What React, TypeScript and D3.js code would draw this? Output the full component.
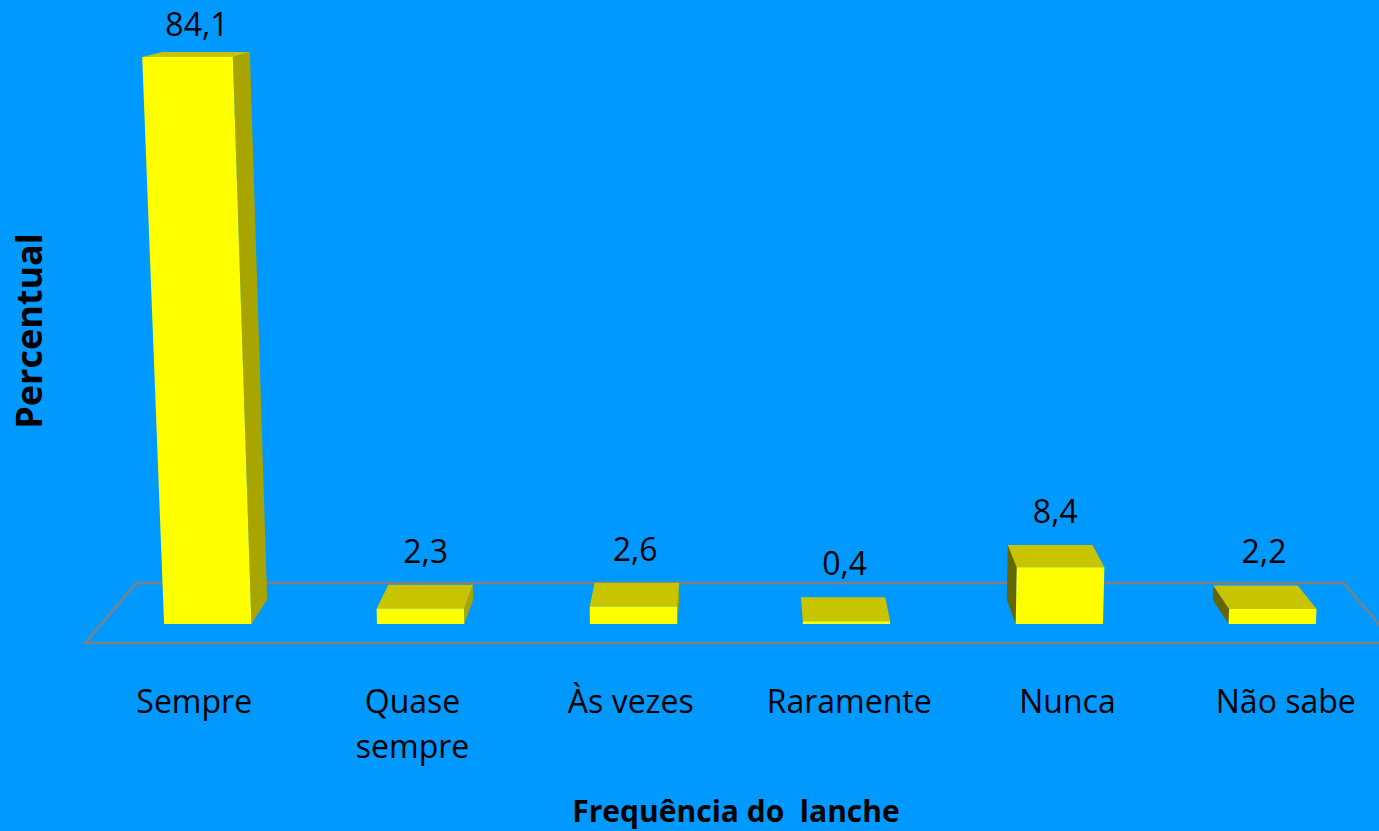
import React from "react";
import * as d3 from "d3";

const categories = ["Sempre", "Quase sempre", "Às vezes", "Raramente", "Nunca", "Não sabe"];
const values = [84.1, 2.3, 2.6, 0.4, 8.4, 2.2];
const valueLabels = ["84,1", "2,3", "2,6", "0,4", "8,4", "2,2"];
const xTitle = "Frequência do  lanche";
const yTitle = "Percentual";

const W = 1379;
const H = 831;

// perspective camera parameters
const CX = 740;
const HORIZON_Y = -90;
const FLOOR_Y = 643;
const D0 = 1000;
const VERT_VP_Y = 15545;
const REF_Y = 630;

const FLOOR_DEPTH = 89.3;
const BAR_Z0 = 26.7;
const BAR_Z1 = 62.7;

const xScale = d3
  .scaleBand<string>()
  .domain(categories)
  .range([-655.5, 655.5])
  .paddingInner(0.59)
  .paddingOuter(0.295);

const hScale = d3.scaleLinear().domain([0, 100]).range([0, 692]);

function project(X: number, Hh: number, z: number): [number, number] {
  const s = D0 / (D0 + z);
  const x0 = CX + X * s;
  const y0 = HORIZON_Y + (FLOOR_Y - HORIZON_Y - Hh) * s;
  const lean = (VERT_VP_Y - y0) / (VERT_VP_Y - REF_Y);
  return [CX + (x0 - CX) * lean, y0];
}

const poly = (pts: [number, number][]) =>
  d3.line()(pts as [number, number][]) + "Z";

const FRONT = "#ffff00";
const TOP = "#c8c400";
const RIGHT_SIDE = "#a8a400";
const LEFT_SIDE = "#666600";
const BG = "#0099ff";
const FLOOR_STROKE = "#808080";
const FONT = "'Open Sans', 'DejaVu Sans', sans-serif";

export default function App() {
  const [x0r, x1r] = xScale.range();
  const floorPts: [number, number][] = [
    project(x0r, 0, 0),
    project(x1r, 0, 0),
    project(x1r, 0, FLOOR_DEPTH),
    project(x0r, 0, FLOOR_DEPTH),
  ];

  const bars = categories.map((c, i) => {
    const xl = xScale(c)!;
    const xr = xl + xScale.bandwidth();
    const h = hScale(values[i]);
    const flb = project(xl, 0, BAR_Z0);
    const frb = project(xr, 0, BAR_Z0);
    const frt = project(xr, h, BAR_Z0);
    const flt = project(xl, h, BAR_Z0);
    const blb = project(xl, 0, BAR_Z1);
    const brb = project(xr, 0, BAR_Z1);
    const brt = project(xr, h, BAR_Z1);
    const blt = project(xl, h, BAR_Z1);
    const centerX = (xl + xr) / 2;
    const showLeft = xl > 0; // bar right of camera
    const side = showLeft
      ? { d: poly([flb, flt, blt, blb]), fill: LEFT_SIDE }
      : { d: poly([frb, frt, brt, brb]), fill: RIGHT_SIDE };
    const top = poly([flt, frt, brt, blt]);
    const front = poly([flb, frb, frt, flt]);
    const topCenter = project(centerX, h, (BAR_Z0 + BAR_Z1) / 2);
    const labelY = Math.max(Math.min(blt[1], brt[1]) - 22, 36);
    const catX = project(centerX, 0, 0)[0];
    return { c, i, side, top, front, labelX: topCenter[0], labelY, catX };
  });

  return (
    <svg
      width={W}
      height={H}
      style={{ position: "absolute", left: 0, top: 0, display: "block" }}
      fontFamily={FONT}
    >
      <rect x={0} y={0} width={W} height={H} fill={BG} />
      <path d={poly(floorPts)} fill="none" stroke={FLOOR_STROKE} strokeWidth={2.5} />
      {bars.map((b) => (
        <g key={b.c}>
          <path d={b.side.d} fill={b.side.fill} />
          <path d={b.top} fill={TOP} />
          <path d={b.front} fill={FRONT} />
        </g>
      ))}
      {bars.map((b) => (
        <text
          key={"v" + b.c}
          x={b.labelX}
          y={b.labelY}
          textAnchor="middle"
          fontSize={32}
          fill="#000"
        >
          {valueLabels[b.i]}
        </text>
      ))}
      {bars.map((b) => {
        const lines = b.c.length > 10 ? b.c.split(" ") : [b.c];
        return (
          <text
            key={"c" + b.c}
            x={b.catX}
            y={713}
            textAnchor="middle"
            fontSize={32}
            fill="#000"
          >
            {lines.map((l, k) => (
              <tspan key={k} x={b.catX} dy={k === 0 ? 0 : 45}>
                {l}
              </tspan>
            ))}
          </text>
        );
      })}
      <text
        x={736}
        y={822}
        textAnchor="middle"
        fontSize={30}
        fontWeight="bold"
        fill="#000"
        style={{ whiteSpace: "pre" }}
      >
        {xTitle}
      </text>
      <text
        transform={`translate(42,331) rotate(-90)`}
        textAnchor="middle"
        fontSize={36}
        fontWeight="bold"
        fill="#000"
      >
        {yTitle}
      </text>
    </svg>
  );
}
